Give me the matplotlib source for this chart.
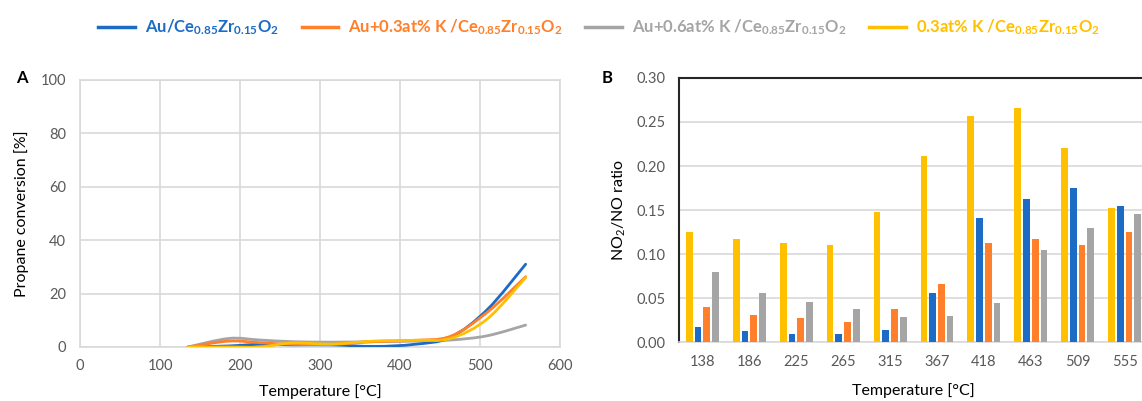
import numpy as np
import matplotlib
matplotlib.use("Agg")
import matplotlib.pyplot as plt
from matplotlib.path import Path
import matplotlib.patches as mpatches
from matplotlib.lines import Line2D

plt.rcParams['font.family'] = ['Lato', 'DejaVu Sans']
plt.rcParams['mathtext.default'] = 'regular'

# series names and colours
labels = ['Au/Ce$_{0.85}$Zr$_{0.15}$O$_2$',
          'Au+0.3at% K /Ce$_{0.85}$Zr$_{0.15}$O$_2$',
          'Au+0.6at% K /Ce$_{0.85}$Zr$_{0.15}$O$_2$',
          '0.3at% K /Ce$_{0.85}$Zr$_{0.15}$O$_2$']
colors = ['#1C6BC4', '#FF7F2A', '#A5A5A5', '#FFC000']

# panel A: propane conversion [%] vs temperature
temps = [135, 186, 225, 265, 315, 367, 418, 463, 509, 557]
conv_au = [0.0, 0.4, 1.0, 0.8, 0.8, 0.2, 1.0, 3.6, 14.0, 31.0]
conv_au_k03 = [0.0, 2.2, 1.6, 1.0, 1.0, 2.0, 2.5, 4.0, 13.0, 26.3]
conv_au_k06 = [0.0, 3.2, 2.6, 2.0, 1.8, 2.0, 2.2, 2.6, 4.2, 8.2]
conv_k03 = [0.0, 0.0, 0.0, 1.5, 1.1, 2.2, 2.5, 3.2, 10.5, 26.0]

# panel B: NO2/NO ratio
bar_temps = ['138', '186', '225', '265', '315', '367', '418', '463', '509', '555']
ratio_k03 = [0.125, 0.117, 0.112, 0.110, 0.148, 0.211, 0.257, 0.266, 0.220, 0.152]
ratio_au = [0.017, 0.013, 0.009, 0.009, 0.014, 0.056, 0.141, 0.163, 0.175, 0.155]
ratio_au_k03 = [0.040, 0.031, 0.027, 0.023, 0.037, 0.066, 0.112, 0.117, 0.110, 0.125]
ratio_au_k06 = [0.079, 0.056, 0.046, 0.037, 0.028, 0.029, 0.044, 0.104, 0.129, 0.146]

tick_col = '#595959'
grid_col = '#D9D9D9'


def smooth_path(x, y):
    # excel-like smoothed line as a bezier path through the points
    p = np.column_stack([x, y]).astype(float)
    p = np.vstack([p[0], p, p[-1]])
    verts = [p[1]]
    codes = [Path.MOVETO]
    for i in range(1, len(p) - 2):
        c1 = p[i] + (p[i + 1] - p[i - 1]) / 6.0
        c2 = p[i + 1] - (p[i + 2] - p[i]) / 6.0
        verts += [c1, c2, p[i + 1]]
        codes += [Path.CURVE4] * 3
    return Path(verts, codes)


fig = plt.figure(figsize=(11.42, 4.01), dpi=100)

# ---- panel A
ax1 = fig.add_axes([0.0701, 0.1347, 0.4203, 0.6658])
for vals, c in zip([conv_au_k06, conv_au, conv_au_k03, conv_k03],
                   [colors[2], colors[0], colors[1], colors[3]]):
    patch = mpatches.PathPatch(smooth_path(temps, vals), fill=False,
                               edgecolor=c, lw=2.0, capstyle='round', zorder=3)
    ax1.add_patch(patch)
ax1.set_xlim(0, 600)
ax1.set_ylim(0, 100)
ax1.set_xticks(range(0, 601, 100))
ax1.set_yticks(range(0, 101, 20))
ax1.grid(True, color=grid_col, lw=1.2)
ax1.set_axisbelow(True)
for s in ax1.spines.values():
    s.set_color(grid_col)
    s.set_linewidth(1.2)
ax1.tick_params(length=0, labelsize=10.5, labelcolor=tick_col)
ax1.tick_params(axis='y', pad=10)
ax1.tick_params(axis='x', pad=9)
ax1.set_xlabel('Temperature [°C]', fontsize=11.5)
ax1.set_ylabel('Propane conversion [%]', fontsize=11.5)
ax1.xaxis.set_label_coords(0.5, -0.14)
ax1.yaxis.set_label_coords(-0.106, 0.5)

# ---- panel B
ax2 = fig.add_axes([0.5946, 0.1471, 0.4107, 0.6584])
x = np.arange(len(bar_temps))
step = 0.186
w = 0.143
for k, (vals, c) in enumerate(zip([ratio_k03, ratio_au, ratio_au_k03, ratio_au_k06],
                                  [colors[3], colors[0], colors[1], colors[2]])):
    ax2.bar(x + (k - 1.5) * step, vals, width=w, color=c, zorder=3)
ax2.set_xlim(-0.5, len(bar_temps) - 0.5)
ax2.set_ylim(0, 0.30)
ax2.set_yticks(np.arange(0, 0.301, 0.05))
ax2.set_yticklabels(['%.2f' % v for v in np.arange(0, 0.301, 0.05)])
ax2.set_xticks(x)
ax2.set_xticklabels(bar_temps)
ax2.yaxis.grid(True, color=grid_col, lw=1.2)
ax2.set_axisbelow(True)
ax2.spines['left'].set_color('#262626')
ax2.spines['top'].set_color('#262626')
ax2.spines['left'].set_linewidth(1.5)
ax2.spines['top'].set_linewidth(1.5)
ax2.spines['bottom'].set_color(grid_col)
ax2.spines['bottom'].set_linewidth(1.2)
ax2.spines['right'].set_visible(False)
ax2.tick_params(length=0, labelsize=10.5, labelcolor=tick_col)
ax2.tick_params(axis='y', pad=10)
ax2.tick_params(axis='x', pad=9)
ax2.set_xlabel('Temperature [°C]', fontsize=11.5)
ax2.set_ylabel('NO$_2$/NO ratio', fontsize=11.5)
ax2.xaxis.set_label_coords(0.5, -0.155)
ax2.yaxis.set_label_coords(-0.108, 0.5)

fig.text(0.0193, 0.805, 'A', fontsize=12, fontweight='bold', ha='center', va='center')
fig.text(0.5315, 0.805, 'B', fontsize=12, fontweight='bold', ha='center', va='center')

handles = [Line2D([], [], color=c, lw=2.5) for c in colors]
fig.legend(handles, labels, loc='center', bbox_to_anchor=(0.5245, 0.932), ncol=4,
           frameon=False, labelcolor=colors, handlelength=2.2,
           handletextpad=0.6, columnspacing=1.35, prop={'weight': 'bold', 'size': 12})

fig.savefig('out.png', dpi=100)
